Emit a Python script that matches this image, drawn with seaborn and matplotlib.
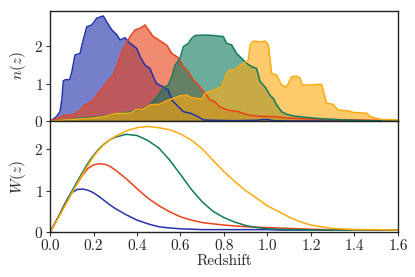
import numpy as np
import pandas as pd
import matplotlib
matplotlib.use("Agg")
import matplotlib.pyplot as plt
import seaborn as sns

# n(z) curves
z_blue = [0, 0.01, 0.03, 0.046, 0.055, 0.061, 0.07, 0.09, 0.1, 0.115, 0.138, 0.15, 0.169, 0.192,
          0.215, 0.245, 0.26, 0.284, 0.307, 0.322, 0.345, 0.368, 0.398, 0.414, 0.437, 0.46, 0.475,
          0.49, 0.521, 0.544, 0.56, 0.582, 0.613, 0.65, 0.682, 0.705, 0.75, 0.85, 0.95, 0.98, 1.0,
          1.03, 1.1, 1.6]
n_blue = [0, 0.03, 0.12, 0.25, 0.6, 1.07, 1.1, 1.1, 1.3, 1.76, 1.8, 2.1, 2.51, 2.56,
          2.74, 2.8, 2.65, 2.43, 2.3, 2.16, 2.22, 2.07, 1.94, 1.72, 1.49, 1.4, 1.18,
          1.0, 0.91, 0.83, 0.56, 0.43, 0.25, 0.2, 0.11, 0.03, 0.02, 0.01, 0.02, 0.04, 0.04,
          0.01, 0.0, 0.0]

z_red = [0, 0.02, 0.05, 0.06, 0.1, 0.12, 0.14, 0.161, 0.192, 0.222, 0.253, 0.276, 0.291, 0.314,
         0.33, 0.345, 0.368, 0.38, 0.391, 0.414, 0.437, 0.452, 0.475, 0.49, 0.513, 0.537, 0.56,
         0.59, 0.613, 0.636, 0.659, 0.682, 0.713, 0.736, 0.759, 0.782, 0.82, 0.866, 0.912, 0.958,
         1.02, 1.1, 1.2, 1.3, 1.4, 1.5, 1.6]
n_red = [0, 0.04, 0.1, 0.15, 0.16, 0.2, 0.3, 0.43, 0.51, 0.74, 0.96, 1.14, 1.2, 1.58,
         1.84, 2.0, 2.25, 2.34, 2.43, 2.47, 2.56, 2.43, 2.25, 2.2, 2.11, 2.02, 1.8,
         1.69, 1.45, 1.31, 1.09, 0.96, 0.74, 0.56, 0.51, 0.37, 0.29, 0.25, 0.16, 0.13,
         0.12, 0.08, 0.05, 0.04, 0.03, 0.02, 0.01]

z_green = [0, 0.05, 0.1, 0.15, 0.2, 0.25, 0.3, 0.368, 0.414, 0.46, 0.498, 0.521, 0.544, 0.56,
           0.575, 0.598, 0.613, 0.636, 0.651, 0.667, 0.705, 0.75, 0.797, 0.812, 0.835, 0.858,
           0.881, 0.904, 0.927, 0.95, 0.966, 0.989, 1.011, 1.027, 1.042, 1.065, 1.088, 1.126,
           1.172, 1.25, 1.35, 1.45, 1.6]
n_green = [0, 0.02, 0.05, 0.08, 0.1, 0.13, 0.2, 0.24, 0.3, 0.43, 0.69, 0.87, 0.96, 1.18,
           1.49, 1.67, 1.98, 2.07, 2.2, 2.28, 2.29, 2.28, 2.25, 2.07, 2.03, 1.8,
           1.67, 1.54, 1.45, 1.4, 1.05, 0.91, 0.69, 0.6, 0.43, 0.25, 0.18, 0.13,
           0.1, 0.06, 0.03, 0.01, 0.0]

z_orange = [0, 0.05, 0.1, 0.15, 0.2, 0.25, 0.3, 0.368, 0.398, 0.429, 0.46, 0.505, 0.544, 0.567,
            0.598, 0.628, 0.651, 0.682, 0.697, 0.713, 0.743, 0.774, 0.789, 0.812, 0.828, 0.85,
            0.866, 0.897, 0.912, 0.92, 0.935, 0.966, 0.989, 1.004, 1.019, 1.042, 1.065, 1.088,
            1.111, 1.134, 1.149, 1.16, 1.18, 1.249, 1.272, 1.3, 1.326, 1.372, 1.395, 1.456,
            1.472, 1.51, 1.525, 1.6]
n_orange = [0, 0.02, 0.04, 0.06, 0.08, 0.12, 0.2, 0.21, 0.3, 0.32, 0.43, 0.45, 0.56, 0.6,
            0.67, 0.69, 0.62, 0.6, 0.58, 0.74, 0.8, 0.88, 0.91, 1.27, 1.36, 1.36,
            1.45, 1.56, 1.62, 2.03, 2.13, 2.11, 2.13, 2.03, 1.27, 1.23, 0.96, 0.91,
            1.18, 1.2, 1.15, 0.96, 0.96, 0.98, 0.47, 0.45, 0.29, 0.27, 0.23, 0.21,
            0.12, 0.06, 0.04, 0.03]

# W(z) curves, bottom panel
z_w = [0, 0.02, 0.04, 0.06, 0.08, 0.1, 0.125, 0.15, 0.175, 0.2, 0.225, 0.25, 0.275, 0.3, 0.35,
       0.4, 0.45, 0.5, 0.55, 0.6, 0.65, 0.7, 0.75, 0.8, 0.85, 0.9, 0.95, 1.0, 1.05, 1.1, 1.15,
       1.2, 1.3, 1.4, 1.5, 1.6]
w_blue = [0, 0.19, 0.38, 0.6, 0.8, 0.95, 1.03, 1.04, 1.01, 0.95, 0.86, 0.76, 0.66, 0.57, 0.42,
          0.29, 0.2, 0.13, 0.1, 0.08, 0.07, 0.06, 0.06, 0.06, 0.06, 0.06, 0.06, 0.06, 0.05, 0.05,
          0.05, 0.05, 0.05, 0.05, 0.05, 0.05]
w_red = [0, 0.19, 0.38, 0.58, 0.78, 0.97, 1.17, 1.38, 1.54, 1.62, 1.65, 1.64, 1.59, 1.5, 1.29,
         1.05, 0.82, 0.64, 0.49, 0.37, 0.29, 0.23, 0.2, 0.17, 0.15, 0.13, 0.12, 0.11, 0.1, 0.09,
         0.08, 0.07, 0.06, 0.06, 0.05, 0.05]
w_green = [0, 0.19, 0.38, 0.58, 0.78, 0.98, 1.22, 1.45, 1.67, 1.85, 2.01, 2.13, 2.23, 2.29, 2.36,
           2.33, 2.21, 2.03, 1.74, 1.39, 1.03, 0.73, 0.5, 0.35, 0.24, 0.16, 0.11, 0.08, 0.07, 0.06,
           0.06, 0.05, 0.05, 0.05, 0.05, 0.05]
w_orange = [0, 0.18, 0.36, 0.55, 0.74, 0.93, 1.17, 1.4, 1.62, 1.82, 1.99, 2.12, 2.23, 2.31, 2.44,
            2.52, 2.55, 2.52, 2.47, 2.37, 2.22, 2.01, 1.73, 1.46, 1.22, 1.0, 0.82, 0.63, 0.5, 0.36,
            0.25, 0.17, 0.09, 0.06, 0.06, 0.05]

colors = ["#2233aa", "#e8431a", "#117a5c", "#ffaa11"]

sns.set_style("ticks")
plt.rcParams["font.family"] = "serif"
plt.rcParams["font.serif"] = ["cmr10"]
plt.rcParams["mathtext.fontset"] = "cm"
plt.rcParams["axes.formatter.use_mathtext"] = True
plt.rcParams["axes.unicode_minus"] = False

fig = plt.figure(figsize=(4.15, 2.77), dpi=100)
ax1 = fig.add_axes([0.1205, 0.563, 0.8385, 0.397])
ax2 = fig.add_axes([0.1205, 0.162, 0.8385, 0.401], sharex=ax1)

nz = [(z_blue, n_blue), (z_red, n_red), (z_green, n_green), (z_orange, n_orange)]
for (z, n), c in zip(nz, colors):
    ax1.fill_between(z, 0, n, color=c, alpha=0.62, lw=0)
for (z, n), c in zip(nz, colors):
    sns.lineplot(x=z, y=n, ax=ax1, color=c, lw=1.1, sort=False)

for w, c in zip([w_blue, w_red, w_green, w_orange], colors):
    sns.lineplot(x=z_w, y=w, ax=ax2, color=c, lw=1.1)

ax1.set_ylim(0, 2.93)
ax2.set_ylim(0, 2.68)
ax2.set_xlim(0, 1.6)
ax1.set_yticks([0, 1, 2])
ax2.set_yticks([0, 1, 2])
ax2.set_xticks([0, 0.2, 0.4, 0.6, 0.8, 1.0, 1.2, 1.4, 1.6])
ax2.set_xticklabels(["0.0", "0.2", "0.4", "0.6", "0.8", "1.0", "1.2", "1.4", "1.6"])
ax1.tick_params(axis="x", bottom=False, labelbottom=False)
ax1.set_ylabel(r"$n(z)$", fontsize=11, labelpad=4)
ax2.set_ylabel(r"$W(z)$", fontsize=11, labelpad=4)
ax2.set_xlabel("Redshift", fontsize=11, labelpad=1)

for ax in (ax1, ax2):
    ax.tick_params(labelsize=11, length=3, width=0.8, color="#333333", pad=2)
    for s in ax.spines.values():
        s.set_color("#222222")
        s.set_linewidth(1.0)

fig.savefig("out.png", dpi=100)
